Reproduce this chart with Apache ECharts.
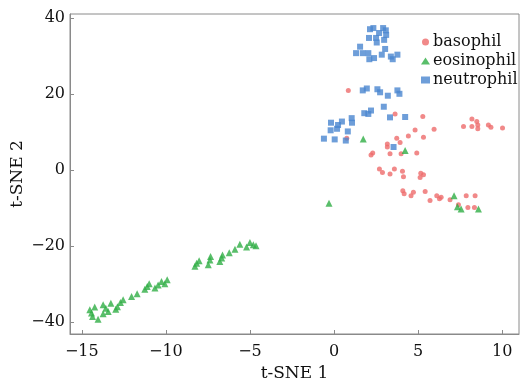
<!DOCTYPE html>
<html>
<head>
<meta charset="utf-8">
<script src="https://cdn.jsdelivr.net/npm/echarts@6/dist/echarts.min.js"></script>
<style>html,body{margin:0;padding:0;background:#fff}#c{width:521px;height:379px}</style>
</head>
<body>
<div id="c"></div>
<script>
var seriesNames = ['basophil', 'eosinophil', 'neutrophil'];
var xTicks = [-15, -10, -5, 0, 5, 10];
var yTicks = [-40, -20, 0, 20, 40];

var basophil = [
  [0.85,20.9],[0.76,8.3],[3.63,14.7],[5.28,14.0],[8.20,13.4],[8.49,12.7],[7.70,11.4],[8.20,11.4],
  [8.55,11.8],[8.55,10.8],[9.18,11.8],[9.33,11.2],[10.02,11.0],[4.82,10.5],[4.42,8.9],[5.32,8.6],
  [5.95,10.7],[3.73,8.3],[3.93,7.2],[3.17,6.8],[3.17,6.0],[2.30,4.4],[2.20,3.9],[3.33,4.2],
  [3.99,4.2],[4.92,4.4],[2.70,0.2],[2.88,-0.7],[3.33,-1.1],[3.59,0.2],[4.07,-0.4],[4.13,-1.8],
  [5.16,-0.9],[5.32,-1.3],[5.12,-2.0],[4.09,-5.5],[4.17,-6.3],[4.58,-6.8],[4.72,-5.9],[5.42,-5.7],
  [5.71,-8.1],[6.11,-6.8],[6.27,-7.6],[6.37,-7.2],[6.90,-7.9],[7.40,-9.2],[7.86,-6.8],[8.39,-6.8],
  [7.96,-9.9],[8.35,-9.9]
];

var eosinophil = [
  [1.74,8.1],[4.23,5.1],[-0.30,-8.8],[7.14,-6.8],[7.34,-9.7],[7.56,-10.3],[8.59,-10.3],
  [-14.52,-36.8],[-14.42,-37.7],[-14.36,-38.6],[-14.23,-36.1],[-14.03,-39.3],[-13.73,-37.9],
  [-13.73,-35.5],[-13.57,-36.4],[-13.43,-37.3],[-13.27,-35.1],[-12.98,-36.7],[-12.88,-36.0],
  [-12.70,-34.9],[-12.54,-34.2],[-12.04,-33.3],[-11.71,-32.6],[-11.25,-31.4],[-11.11,-30.7],
  [-10.99,-30.0],[-10.65,-31.1],[-10.46,-30.3],[-10.26,-29.4],[-10.06,-30.0],[-9.92,-28.9],
  [-8.27,-25.4],[-8.17,-24.6],[-8.02,-23.9],[-7.48,-25.0],[-7.38,-23.7],[-7.34,-22.8],
  [-6.79,-24.1],[-6.68,-23.2],[-6.63,-22.4],[-6.23,-21.8],[-5.89,-20.9],[-5.60,-19.6],
  [-5.20,-20.3],[-5.00,-19.1],[-4.80,-19.7],[-4.64,-20.0]
];

var neutrophil = [
  [2.14,37.0],[2.34,37.3],[2.92,37.3],[3.08,36.7],[2.68,36.0],[3.10,35.5],[2.08,34.7],[2.50,34.7],
  [2.54,33.5],[2.98,34.2],[1.55,32.4],[1.31,30.7],[1.71,30.7],[2.04,30.7],[2.10,29.1],[2.38,29.4],
  [2.84,30.3],[3.04,31.8],[3.38,29.8],[3.49,29.1],[3.77,30.3],
  [1.71,20.9],[1.95,21.4],[2.58,21.2],[2.74,20.4],[3.20,19.5],[3.77,20.9],[3.89,20.0],
  [1.80,14.9],[2.04,14.7],[2.20,15.6],[2.96,16.6],[3.33,13.8],[4.23,13.9],
  [-0.18,12.4],[0.24,11.8],[0.18,10.8],[0.47,12.7],[1.05,13.6],[1.07,12.4],[-0.20,10.4],
  [0.82,10.1],[-0.60,8.2],[0.04,8.0],[0.70,7.7],[3.54,6.0]
];

var font = 'DejaVu Serif';
var axisColor = '#8a8a8a';
function fmt(v){ return String(v).replace('-', '\u2212'); }

var chart = echarts.init(document.getElementById('c'), null, {renderer:'canvas'});
chart.setOption({
  animation: false,
  backgroundColor: '#fff',
  grid: {left: 70, top: 14, right: 2, bottom: 45, show: true, borderColor: axisColor, borderWidth: 1,
         containLabel: false, outerBoundsMode: 'none'},
  legend: {
    orient: 'vertical', left: 416, top: 29, itemGap: 3, itemWidth: 9, itemHeight: 7,
    data: seriesNames,
    textStyle: {fontFamily: font, fontSize: 16, color: '#111', padding: [0,0,0,-2]}
  },
  xAxis: {
    type: 'value', min: -15.7, max: 11,
    name: 't-SNE 1', nameLocation: 'middle', nameGap: 28,
    nameTextStyle: {fontFamily: font, fontSize: 17, color: '#111'},
    splitLine: {show: false},
    axisLine: {show: true, onZero: false, lineStyle: {color: axisColor}},
    axisTick: {show: true, inside: true, length: 4, lineStyle: {color: axisColor}, customValues: xTicks},
    axisLabel: {fontFamily: font, fontSize: 16, color: '#111', margin: 10, customValues: xTicks, formatter: fmt}
  },
  yAxis: {
    type: 'value', min: -43.2, max: 41,
    name: 't-SNE 2', nameLocation: 'middle', nameGap: 44, nameMoveOverlap: false,
    nameTextStyle: {fontFamily: font, fontSize: 17, color: '#111'},
    splitLine: {show: false},
    axisLine: {show: true, onZero: false, lineStyle: {color: axisColor}},
    axisTick: {show: true, inside: true, length: 4, lineStyle: {color: axisColor}, customValues: yTicks},
    axisLabel: {fontFamily: font, fontSize: 16, color: '#111', margin: 5, customValues: yTicks, formatter: fmt}
  },
  series: [
    {name: seriesNames[0], type: 'scatter', data: basophil, symbol: 'circle', symbolSize: 5,
     itemStyle: {color: '#ee6b6b'}},
    {name: seriesNames[1], type: 'scatter', data: eosinophil, symbol: 'triangle', symbolSize: 7,
     itemStyle: {color: '#2fae45'}},
    {name: seriesNames[2], type: 'scatter', data: neutrophil, symbol: 'rect', symbolSize: 6,
     itemStyle: {color: '#4a86d0'}}
  ]
});
</script>
</body>
</html>
